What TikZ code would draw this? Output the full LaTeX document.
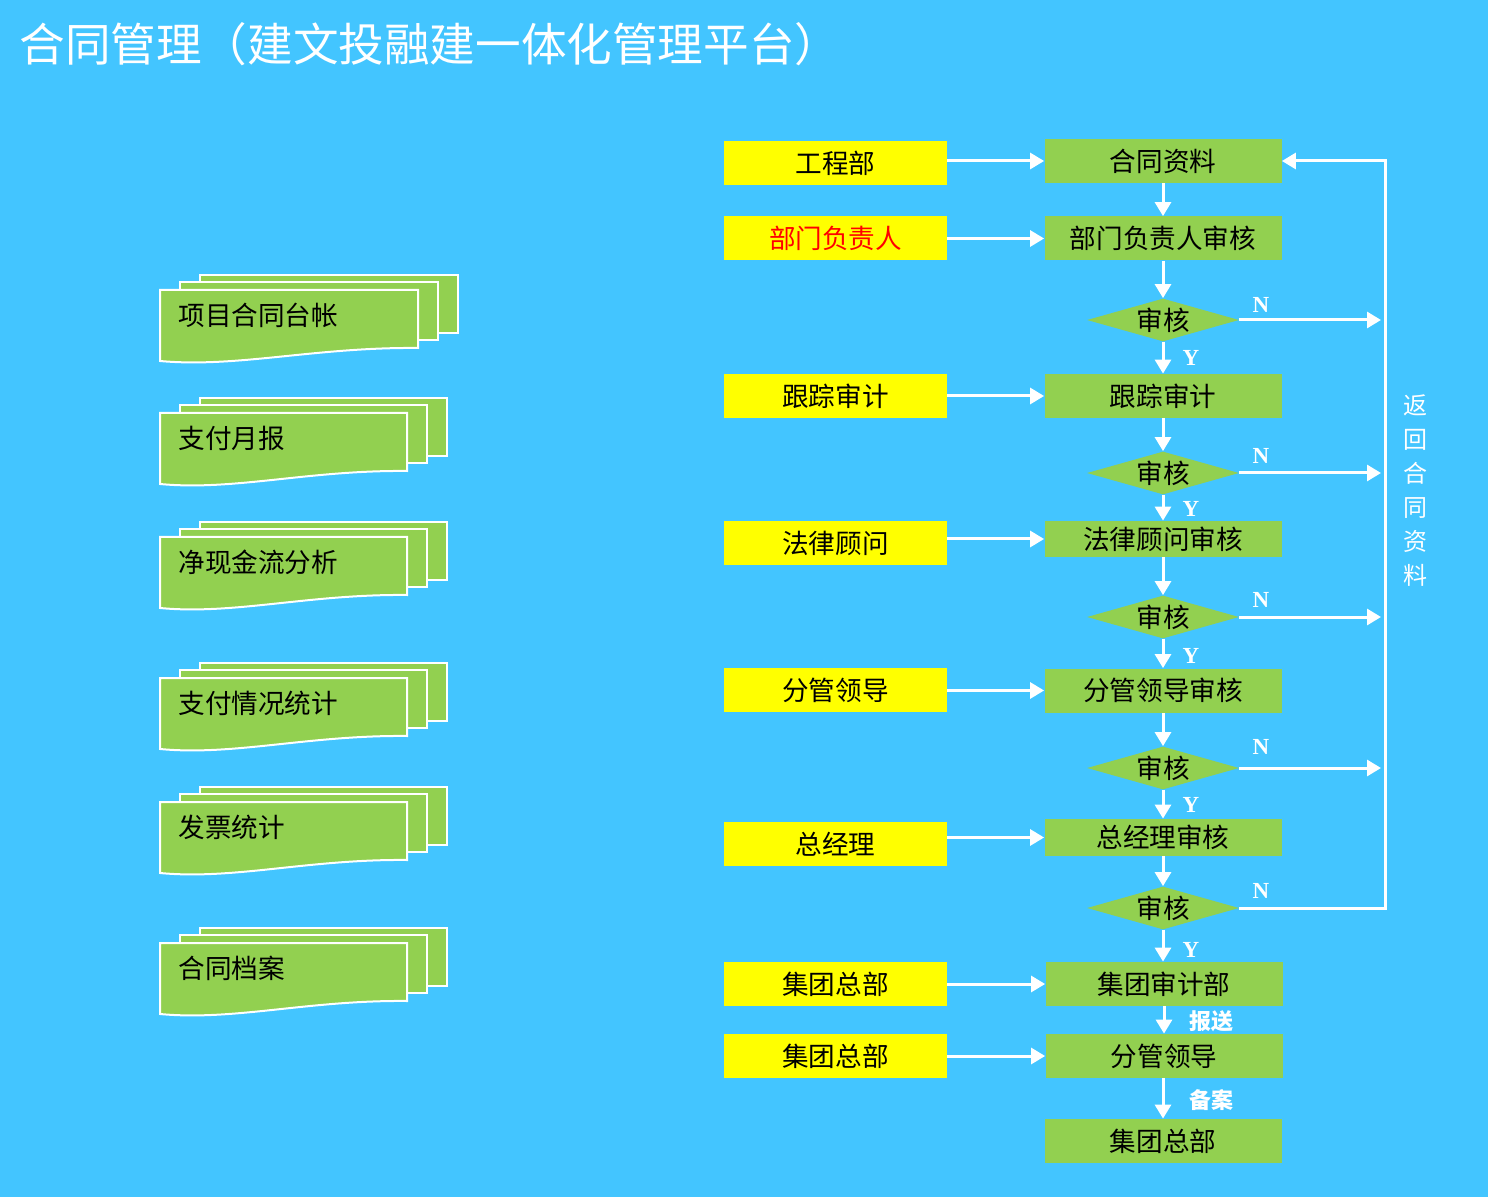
\documentclass[tikz,border=0pt]{standalone}
\usepackage{fontspec}
\setmainfont{Noto Sans CJK SC}
\newfontfamily\latserif{Liberation Serif}
\usetikzlibrary{arrows.meta,shapes.geometric}
\definecolor{bgblue}{RGB}{67,197,255}
\definecolor{boxgreen}{RGB}{146,208,80}
\definecolor{boxyellow}{RGB}{255,255,0}
\newcommand{\dstack}[5]{% #1 name, #2 x, #3 y top of front, #4 width, #5 text
  \filldraw[docl] (#2+40,#3-15) rectangle ++(#4,58);
  \filldraw[docl] (#2+20,#3-8) rectangle ++(#4,58);
  \filldraw[docl] (#2,#3) -- ++(#4,0) -- ++(0,58)
     .. controls (#2+0.6*#4,#3+57) and (#2+0.3*#4,#3+78) .. (#2,#3+71) -- cycle;
  \node[stxt,anchor=west] (#1) at (#2+18,#3+25) {#5};
}
\begin{document}
\begin{tikzpicture}[x=0.5pt,y=-0.5pt,
  gbox/.style={fill=boxgreen, minimum width=118.5pt, minimum height=22pt, inner sep=0pt, font=\fontsize{13.3}{15}\selectfont},
  ybox/.style={fill=boxyellow, minimum width=111.5pt, minimum height=22pt, inner sep=0pt, font=\fontsize{13.3}{15}\selectfont},
  dia/.style={diamond, fill=boxgreen, minimum width=76pt, minimum height=21.5pt, inner sep=0pt},
  dlabel/.style={font=\fontsize{13.3}{15}\selectfont, inner sep=0pt},
  arr/.style={draw=white, line width=1.5pt, -{Triangle[length=7pt,width=8pt]}},
  yn/.style={text=white, font=\latserif\bfseries\fontsize{11.5}{13}\selectfont, inner sep=0pt},
  cnote/.style={text=white, font=\bfseries\fontsize{11}{13}\selectfont, inner sep=0pt},
  docl/.style={fill=boxgreen, draw=white, line width=1pt},
  stxt/.style={font=\fontsize{13.3}{15}\selectfont, inner sep=0pt}
]
\fill[bgblue] (0,0) rectangle (1488,1197);
\useasboundingbox (0,0) rectangle (1488,1197);

% title
\node[anchor=west, text=white, inner sep=0pt, font=\fontsize{22.8}{26}\selectfont] (title) at (19,44) {合同管理（建文投融建一体化管理平台）};

% document stacks
\dstack{s1}{160}{290}{258}{项目合同台帐}
\dstack{s2}{160}{413}{247}{支付月报}
\dstack{s3}{160}{537}{247}{净现金流分析}
\dstack{s4}{160}{678}{247}{支付情况统计}
\dstack{s5}{160}{802}{247}{发票统计}
\dstack{s6}{160}{943}{247}{合同档案}

% yellow boxes
\node[ybox] (y1) at (835.5,163) {工程部};
\node[ybox,text=red] (y2) at (835.5,238) {部门负责人};
\node[ybox] (y3) at (835.5,396) {跟踪审计};
\node[ybox] (y4) at (835.5,543) {法律顾问};
\node[ybox] (y5) at (835.5,690) {分管领导};
\node[ybox] (y6) at (835.5,844) {总经理};
\node[ybox] (y7) at (835.5,984) {集团总部};
\node[ybox] (y8) at (835.5,1056) {集团总部};

% green boxes
\node[gbox] (g1) at (1163,161) {合同资料};
\node[gbox] (g2) at (1163,238.5) {部门负责人审核};
\node[gbox] (g3) at (1163,396) {跟踪审计};
\node[gbox,minimum height=18pt] (g4) at (1163,539) {法律顾问审核};
\node[gbox] (g5) at (1163,690.5) {分管领导审核};
\node[gbox,minimum height=18.5pt] (g6) at (1163,837.5) {总经理审核};
\node[gbox] (g7) at (1164,984) {集团审计部};
\node[gbox] (g8) at (1164,1056) {分管领导};
\node[gbox] (g9) at (1163,1141) {集团总部};

% diamonds
\node[dia] (d1) at (1163,320) {};
\node[dia] (d2) at (1163,473) {};
\node[dia] (d3) at (1163,617) {};
\node[dia] (d4) at (1163,768) {};
\node[dia] (d5) at (1163,908) {};
\node[dlabel] (t1) at (d1) {审核};
\node[dlabel] (t2) at (d2) {审核};
\node[dlabel] (t3) at (d3) {审核};
\node[dlabel] (t4) at (d4) {审核};
\node[dlabel] (t5) at (d5) {审核};

% horizontal arrows yellow -> green
\foreach \a/\b in {y1/g1,y2/g2,y3/g3,y4/g4,y5/g5,y6/g6,y7/g7,y8/g8}
  \draw[arr] (\a.east |- \b.west) -- (\b.west);

% vertical arrows
\draw[arr] (g1.south) -- (g2.north);
\draw[arr] (g2.south) -- (d1.north);
\draw[arr] (d1.south) -- (g3.north);
\draw[arr] (g3.south) -- (d2.north);
\draw[arr] (d2.south) -- (g4.north);
\draw[arr] (g4.south) -- (d3.north);
\draw[arr] (d3.south) -- (g5.north);
\draw[arr] (g5.south) -- (d4.north);
\draw[arr] (d4.south) -- (g6.north);
\draw[arr] (g6.south) -- (d5.north);
\draw[arr] (d5.south) -- (d5.south |- g7.north);
\draw[arr] (g7.south -| g8.north) -- (g8.north);
\draw[arr] (g8.south -| g9.north) -- (g9.north);

% N arrows
\coordinate (nx) at (1381,0);
\coordinate (rt) at (1385,161);
\foreach \d in {d1,d2,d3,d4}
  \draw[arr] (\d.east) -- (\d.east -| nx);
\draw[arr] (d5.east) -| (rt) -- (g1.east);

% N / Y labels
\foreach \yy [count=\i] in {305,456,600,747,891}
  \node[yn] (n\i) at (1261,\yy) {N};
\foreach \yy [count=\i] in {358,509,656,805,950}
  \node[yn] (yl\i) at (1191,\yy) {Y};

\node[cnote] (bs) at (1211,1021) {报送};
\node[cnote] (ba) at (1211,1100) {备案};

% vertical return text
\node[text=white, align=center, inner sep=0pt, font=\fontsize{12}{17}\selectfont] (ret) at (1415,491) {返\\回\\合\\同\\资\\料};
\end{tikzpicture}
\end{document}
